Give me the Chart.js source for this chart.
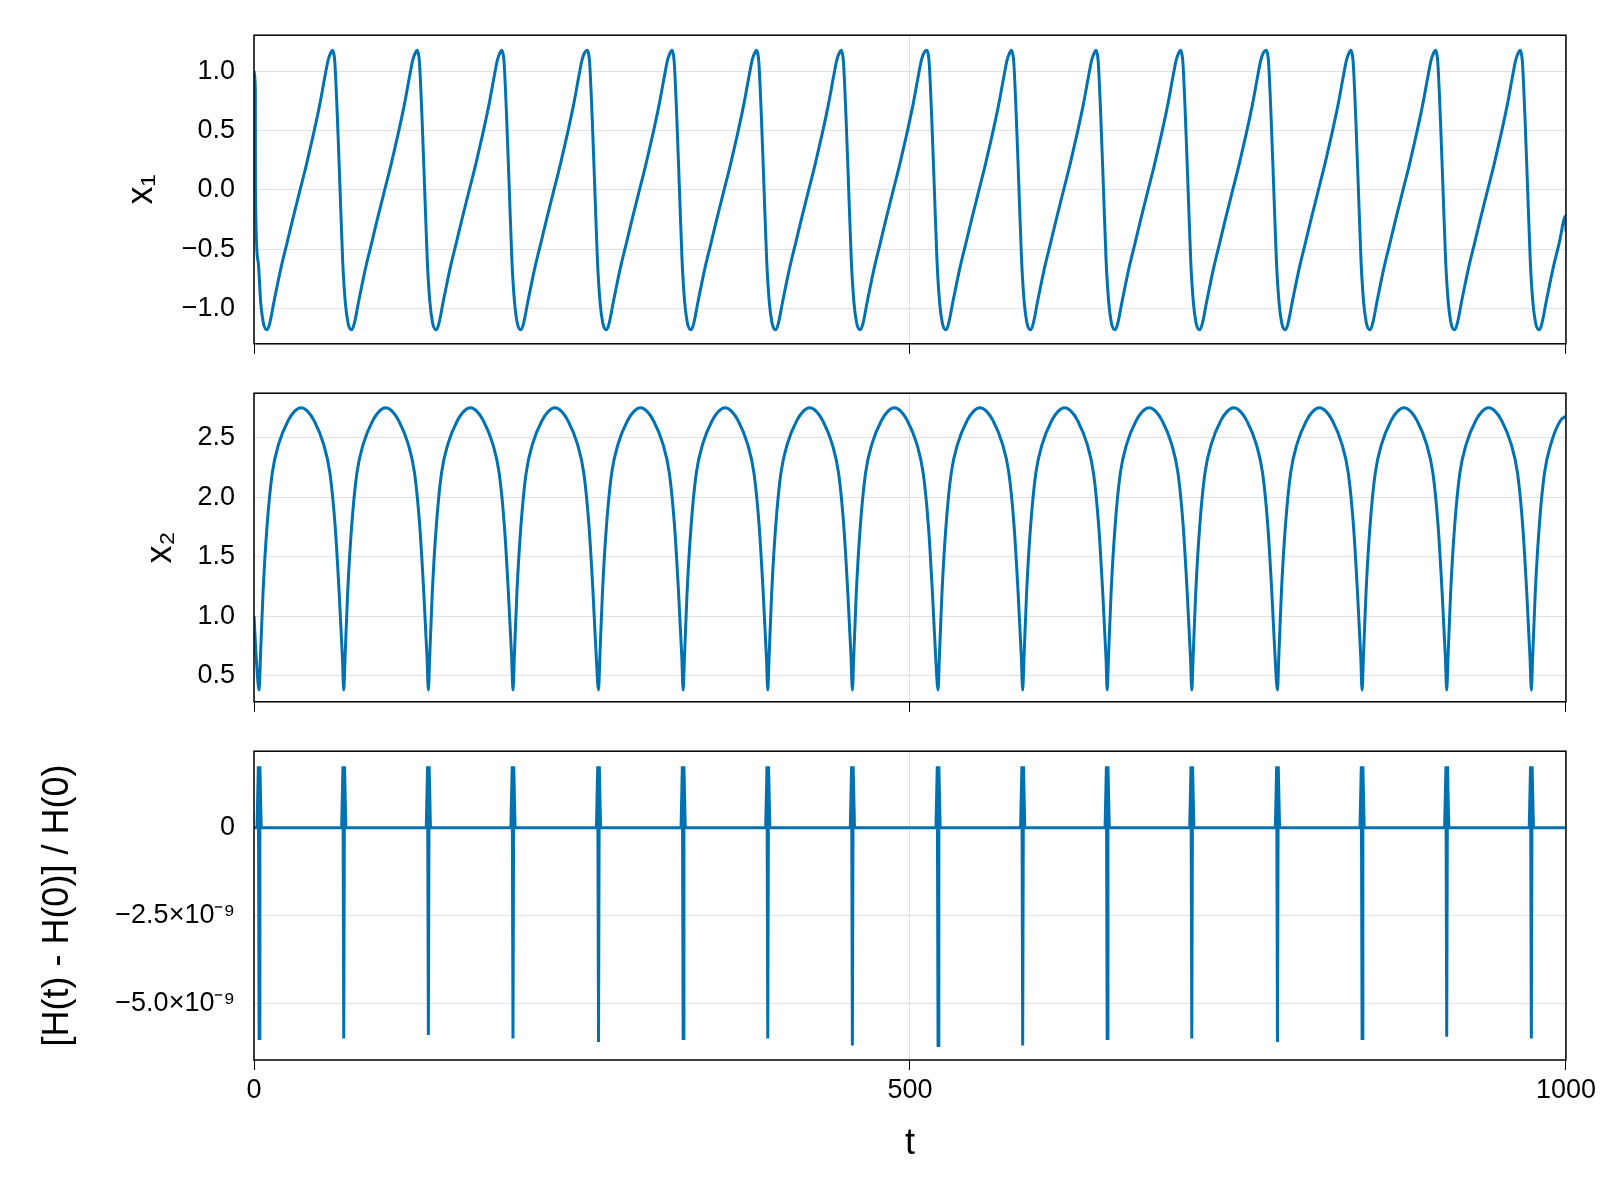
<!DOCTYPE html>
<html>
<head>
<meta charset="utf-8">
<script src="https://cdn.jsdelivr.net/npm/chart.js@4/dist/chart.umd.min.js"></script>
<style>
  body { margin: 0; background: #fff; width: 1600px; height: 1200px; position: relative; }
  .panel { position: absolute; left: 0; width: 1600px; }
</style>
</head>
<body>
<div class="panel" style="top:0;height:379px"><canvas id="c1"></canvas></div>
<div class="panel" style="top:358px;height:379px"><canvas id="c2"></canvas></div>
<div class="panel" style="top:716px;height:484px"><canvas id="c3"></canvas></div>
<script>
// cycle times (minimum of x2)
const cycleTimes = [3.9, 68.4, 132.9, 197.4, 262.6, 327.1, 391.6, 456.1, 521.4, 585.9, 650.3, 714.8, 780.1, 844.6, 909.1, 973.6];

// x1 shape around its own trough (trough is ~6 after cycle time)
const x1Offsets = [-14.8, -14, -13, -11, -9, -7, -5, -3, -1.5, 0, 2, 5, 10, 15, 20, 25, 30, 35, 40, 44, 46.5, 48.5];
const x1Values = [1.18, 1.16, 1.08, 0.6, 0.0, -0.6, -0.95, -1.12, -1.17, -1.18, -1.12, -0.95, -0.68, -0.45, -0.22, 0.0, 0.22, 0.46, 0.72, 0.96, 1.1, 1.16];
const x1Shift = 6.2;
const x1Start = [[0, 1.0], [1, 0.85]];

// x2 arch between cusps
const x2Offsets = [0, 1, 3, 6, 10, 15, 22, 27, 32, 37, 42, 49, 54, 58, 61, 63.5];
const x2Values = [0.38, 0.65, 1.2, 1.75, 2.2, 2.45, 2.64, 2.72, 2.75, 2.72, 2.64, 2.45, 2.2, 1.75, 1.2, 0.65];
const x2Start = [[0, 1.0], [2, 0.6]];

// energy error spikes
const hOffsets = [-1.6, -0.6, 0, 0.6, 1.6];
const hPeak = 1.75e-9;
const hMinima = [-6.0, -6.0, -5.9, -6.0, -6.1, -6.0, -6.0, -6.2, -6.2, -6.2, -6.0, -6.0, -6.1, -6.0, -5.95, -6.0];

const xTicks = [0, 500, 1000];
const x1Ticks = [-1.0, -0.5, 0.0, 0.5, 1.0];
const x2Ticks = [0.5, 1.0, 1.5, 2.0, 2.5];
const hTicks = [-5e-9, -2.5e-9, 0];

const blue = '#0072b2';
const font = "'Liberation Sans', Arial, sans-serif";
Chart.defaults.font.family = font;
Chart.defaults.color = '#000';

const clip = (pts) => pts.filter((p) => p.x >= 0 && p.x <= 1000);

const x1Data = x1Start.map(([x, y]) => ({ x, y }));
cycleTimes.forEach((c) => x1Offsets.forEach((o, i) => x1Data.push({ x: c + x1Shift + o, y: x1Values[i] })));
x1Data.push({ x: 1000, y: -0.35 });

const x2Data = x2Start.map(([x, y]) => ({ x, y }));
cycleTimes.forEach((c) => x2Offsets.forEach((o, i) => x2Data.push({ x: c + o, y: x2Values[i] })));
x2Data.push({ x: 1000, y: 2.68 });

const hData = [{ x: 0, y: 0 }];
cycleTimes.forEach((c, k) => {
  const vals = [0, hPeak, hMinima[k] * 1e-9, hPeak, 0];
  hOffsets.forEach((o, i) => hData.push({ x: c + o, y: vals[i] }));
});
hData.push({ x: 1000, y: 0 });

const frame = {
  id: 'frame',
  afterDraw(chart) {
    const { ctx, chartArea: a } = chart;
    ctx.save();
    ctx.strokeStyle = '#000';
    ctx.lineWidth = 1.5;
    ctx.strokeRect(a.left, a.top, a.right - a.left, a.bottom - a.top);
    ctx.restore();
  },
};

const fmtSci = (v) => {
  if (v === 0) return '0';
  const m = (v / 1e-9).toFixed(1).replace('-', '−');
  return `${m}×10⁻⁹`;
};

const makeChart = (id, data, ymin, ymax, yTicks, title, titleSize, titleLeft, fmt, bottom, smooth) => {
  new Chart(document.getElementById(id), {
    type: 'line',
    data: {
      datasets: [{
        data: clip(data), borderColor: blue, borderWidth: 3, pointRadius: 0,
        cubicInterpolationMode: smooth ? 'monotone' : 'default', tension: 0,
      }],
    },
    plugins: [frame],
    options: {
      responsive: true,
      maintainAspectRatio: false,
      animation: false,
      layout: { padding: { top: 29, right: 33, bottom: bottom ? 30 : 0, left: titleLeft } },
      plugins: { legend: { display: false }, tooltip: { enabled: false } },
      scales: {
        x: {
          type: 'linear', min: 0, max: 1000,
          afterBuildTicks: (s) => { s.ticks = xTicks.map((v) => ({ value: v })); },
          afterFit: (s) => { s.height = bottom ? 110 : 13; },
          grid: { color: 'rgba(0,0,0,0.12)', tickColor: '#000', tickLength: 10, drawOnChartArea: true },
          border: { display: false },
          ticks: { color: bottom ? '#000' : 'rgba(0,0,0,0)', font: { size: 27 }, padding: 4, maxRotation: 0, callback: (v) => String(v) },
          title: { display: bottom, text: 't', font: { size: 36 } },
        },
        y: {
          min: ymin, max: ymax,
          afterBuildTicks: (s) => { s.ticks = yTicks.map((v) => ({ value: v })); },
          afterFit: (s) => { s.width = 254 - titleLeft; },
          grid: { color: 'rgba(0,0,0,0.12)', tickColor: '#000', tickLength: 0 },
          border: { display: false },
          ticks: { font: { size: 27 }, padding: 19, callback: fmt },
          title: { display: true, text: title, font: { size: titleSize }, padding: 0 },
        },
      },
    },
  });
};

const fmtDec = (v) => v.toFixed(1).replace('-', '−');
makeChart('c1', x1Data, -1.298, 1.306, x1Ticks, 'x₁', 36, 120, fmtDec, false, true);
makeChart('c2', x2Data, 0.28, 2.873, x2Ticks, 'x₂', 36, 139, fmtDec, false, true);
makeChart('c3', hData, -6.61e-9, 2.18e-9, hTicks, '[H(t) - H(0)] / H(0)', 36, 36, fmtSci, true, false);
</script>
</body>
</html>
